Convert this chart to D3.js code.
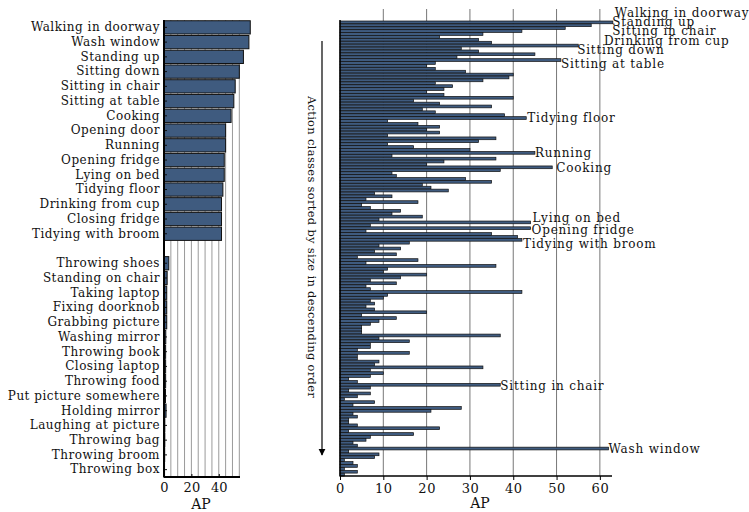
<!DOCTYPE html>
<html>
<head>
<meta charset="utf-8">
<script src="https://cdn.jsdelivr.net/npm/d3@7"></script>
<style>
  body { margin: 0; background: #fff; }
  text { font-family: "DejaVu Serif", serif; fill: #111; }
</style>
</head>
<body>
<script>
// ---- data ----
var topClasses = ['Walking in doorway', 'Wash window', 'Standing up', 'Sitting down', 'Sitting in chair',
  'Sitting at table', 'Cooking', 'Opening door', 'Running', 'Opening fridge', 'Lying on bed',
  'Tidying floor', 'Drinking from cup', 'Closing fridge', 'Tidying with broom']
var topAP = [63, 62, 58, 55, 52, 51, 49, 45, 45, 44, 44, 43, 42, 42, 42]

var bottomClasses = ['Throwing shoes', 'Standing on chair', 'Taking laptop', 'Fixing doorknob', 'Grabbing picture',
  'Washing mirror', 'Throwing book', 'Closing laptop', 'Throwing food', 'Put picture somewhere',
  'Holding mirror', 'Laughing at picture', 'Throwing bag', 'Throwing broom', 'Throwing box']
var bottomAP = [3.5, 2.3, 2, 2, 2, 1.3, 1.2, 1.2, 1.2, 1.1, 1.5, 0.6, 0.6, 0.5, 0.4]

// all 157 classes, sorted by class size (descending)
var allAP = [63, 58, 52, 42, 33, 23, 32, 35, 55, 28, 32, 45, 27, 51, 22, 20, 22, 29, 40, 39,
  33, 22, 26, 24, 20, 24, 40, 17, 23, 35, 19, 22, 38, 43, 11, 18, 23, 20, 23, 11,
  36, 32, 11, 17, 30, 45, 12, 36, 24, 20, 49, 37, 12, 13, 29, 35, 19, 21, 25, 8,
  12, 6, 18, 5, 7, 14, 12, 19, 9, 44, 7, 44, 6, 35, 41, 42, 16, 9, 14, 8,
  13, 4, 18, 6, 36, 11, 10, 20, 14, 7, 13, 6, 7, 42, 11, 10, 7, 8, 6, 8,
  20, 5, 13, 9, 7, 5, 5, 5, 37, 9, 16, 7, 7, 4, 16, 4, 4, 9, 8, 33,
  7, 10, 7, 2, 4, 37, 7, 2, 7, 4, 1, 8, 3, 28, 21, 3, 4, 2, 2, 4,
  23, 2, 17, 7, 6, 3, 4, 62, 2, 9, 8, 1, 3, 4, 1, 4, 1]

// labelled bars in the right panel (index into allAP)
var noteIndex = [0, 1, 2, 3, 8, 13, 33, 45, 50, 69, 71, 75, 125, 147]
var noteText = ['Walking in doorway', 'Standing up', 'Sitting in chair', 'Drinking from cup', 'Sitting down',
  'Sitting at table', 'Tidying floor', 'Running', 'Cooking', 'Lying on bed', 'Opening fridge',
  'Tidying with broom', 'Sitting in chair', 'Wash window']

var leftTicks = [0, 20, 40]
var rightTicks = [0, 10, 20, 30, 40, 50, 60]

// label nudges so they don't overlap (px)
var noteShift = [[2, -10], [21, -3], [47, 3], [82, 10], [-1, 4], [0, 4], [1, 0], [0, 0], [4, 0], [2, -5], [1, 1.5], [1, 4], [0, 1], [0, 0]]

var W = 749, H = 512
var barFill = '#3f5b7f'

var svg = d3.select('body').append('svg').attr('width', W).attr('height', H)

// ---------------- left panel ----------------
var rows = topClasses.concat(['__gap__']).concat(bottomClasses)
var leftVals = topAP.concat([0]).concat(bottomAP)

var yL = d3.scaleBand().domain(rows).range([20, 477]).paddingInner(0.1).paddingOuter(0.05)
var xL = d3.scaleLinear().domain([0, 55.5]).range([164, 240])

var left = svg.append('g')

left.selectAll('.grid').data(d3.range(5, 56, 5)).enter()
  .append('line').attr('x1', d => xL(d)).attr('x2', d => xL(d))
  .attr('y1', 20).attr('y2', 477)
  .attr('stroke', '#9a9a9a').attr('stroke-width', 1)

left.selectAll('rect').data(rows.filter(r => r !== '__gap__')).enter()
  .append('rect')
  .attr('x', xL(0))
  .attr('y', d => yL(d))
  .attr('height', yL.bandwidth())
  .attr('width', d => xL(leftVals[rows.indexOf(d)]) - xL(0))
  .attr('fill', barFill).attr('stroke', '#111').attr('stroke-width', 1)

var axL = d3.axisLeft(yL).tickSize(-3).tickPadding(4)
  .tickValues(rows.filter(r => r !== '__gap__'))
var gL = left.append('g').attr('transform', 'translate(' + xL(0) + ',0)').call(axL)
gL.select('.domain').remove()
gL.selectAll('text').style('font-size', '12px').attr('fill', '#111').attr('letter-spacing', '0.5px')
gL.selectAll('line').attr('stroke', '#111')

var axLb = d3.axisBottom(xL).tickValues(leftTicks).tickSize(-3).tickPadding(6)
var gLb = left.append('g').attr('transform', 'translate(0,477)').call(axLb)
gLb.select('.domain').remove()
gLb.selectAll('text').style('font-size', '13px').attr('fill', '#111')

left.append('line').attr('x1', xL(0)).attr('x2', xL(0)).attr('y1', 20).attr('y2', 477.5).attr('stroke', '#000').attr('stroke-width', 2)
left.append('line').attr('x1', xL(0)).attr('x2', 240).attr('y1', 477).attr('y2', 477).attr('stroke', '#000').attr('stroke-width', 2)

left.append('text').attr('x', 201).attr('y', 509).attr('text-anchor', 'middle').style('font-size', '14px').text('AP')

// ---------------- right panel ----------------
var xR = d3.scaleLinear().domain([0, 62.8]).range([340, 612])
var yR = d3.scaleBand().domain(d3.range(allAP.length)).range([21, 476]).paddingInner(0.05)

var right = svg.append('g')

right.selectAll('.grid').data(rightTicks.slice(1)).enter()
  .append('line').attr('x1', d => xR(d)).attr('x2', d => xR(d))
  .attr('y1', 9).attr('y2', 476)
  .attr('stroke', '#777').attr('stroke-width', 1)

right.selectAll('rect').data(allAP).enter()
  .append('rect')
  .attr('x', xR(0))
  .attr('y', (d, i) => yR(i))
  .attr('height', yR.bandwidth())
  .attr('width', d => xR(d) - xR(0))
  .attr('fill', barFill).attr('stroke', '#111').attr('stroke-width', 0.7)

var axR = d3.axisBottom(xR).tickValues(rightTicks).tickSize(4).tickPadding(4)
var gR = right.append('g').attr('transform', 'translate(0,476)').call(axR)
gR.select('.domain').remove()
gR.selectAll('text').style('font-size', '13px').attr('fill', '#111').attr('letter-spacing', '0.5px')

right.append('line').attr('x1', xR(0)).attr('x2', xR(0)).attr('y1', 20).attr('y2', 476.5).attr('stroke', '#000').attr('stroke-width', 1.5)
right.append('line').attr('x1', xR(0)).attr('x2', 612).attr('y1', 476).attr('y2', 476).attr('stroke', '#000').attr('stroke-width', 1.5)

right.append('text').attr('x', 480).attr('y', 508).attr('text-anchor', 'middle').style('font-size', '14px').text('AP')

right.selectAll('.note').data(noteIndex).enter()
  .append('text')
  .attr('x', (d, i) => xR(allAP[d]) + noteShift[i][0])
  .attr('y', (d, i) => yR(d) + yR.bandwidth() / 2 + noteShift[i][1])
  .attr('dy', '0.35em')
  .attr('letter-spacing', '0.8px')
  .style('font-size', '12px')
  .text((d, i) => noteText[i])

// arrow + rotated caption
var defs = svg.append('defs')
defs.append('marker').attr('id', 'ah').attr('viewBox', '0 0 10 10').attr('refX', 9).attr('refY', 5)
  .attr('markerWidth', 6).attr('markerHeight', 7).attr('orient', 'auto')
  .append('path').attr('d', 'M0,0 L10,5 L0,10 z').attr('fill', '#000')
right.append('line').attr('x1', 322).attr('x2', 322).attr('y1', 41).attr('y2', 455)
  .attr('stroke', '#000').attr('stroke-width', 1.2).attr('marker-end', 'url(#ah)')

right.append('text')
  .attr('transform', 'translate(308,247) rotate(90)')
  .attr('text-anchor', 'middle')
  .attr('letter-spacing', '0.3px')
  .style('font-size', '11.5px')
  .text('Action classes sorted by size in descending order')
</script>
</body>
</html>
